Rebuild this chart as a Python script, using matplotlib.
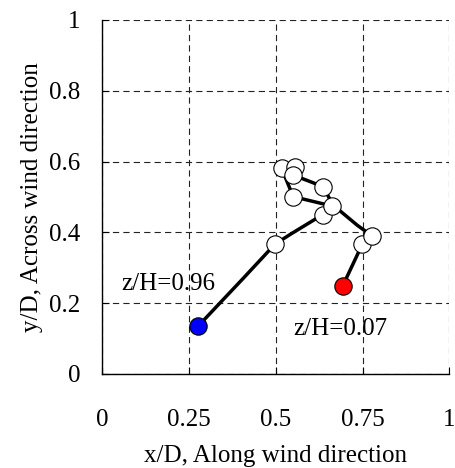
import matplotlib
matplotlib.use("Agg")
import matplotlib.pyplot as plt

plt.rcParams['font.family'] = ['Liberation Serif', 'DejaVu Serif']
plt.rcParams['lines.scale_dashes'] = False

# trajectory of the centre, from z/H=0.96 (top) down to z/H=0.07 (bottom)
path_x = [0.277, 0.406, 0.498, 0.546, 0.635, 0.660, 0.550, 0.517, 0.555,
          0.550, 0.637, 0.664, 0.735, 0.776, 0.749, 0.693]
path_y = [0.136, 0.270, 0.367, 0.397, 0.450, 0.475, 0.501, 0.581, 0.586,
          0.562, 0.529, 0.478, 0.420, 0.391, 0.366, 0.249]

# measured levels (open circles)
mark_x = [0.498, 0.635, 0.661, 0.550, 0.637, 0.517, 0.555, 0.550, 0.749, 0.776]
mark_y = [0.367, 0.450, 0.475, 0.501, 0.529, 0.581, 0.586, 0.562, 0.366, 0.391]

top_pt = (0.277, 0.136)      # z/H=0.96
bottom_pt = (0.693, 0.249)   # z/H=0.07

ticks_x = [0, 0.25, 0.5, 0.75, 1]
ticks_y = [0, 0.2, 0.4, 0.6, 0.8, 1]

fig = plt.figure(figsize=(4.56, 4.68), dpi=100)
ax = fig.add_axes([0.2243, 0.2009, 0.7610, 0.7564])

ax.plot(path_x, path_y, color='black', lw=2.5, zorder=3, solid_capstyle='round')
ax.plot(mark_x, mark_y, 'o', ms=12.5, mfc='white', mec='black', mew=0.8, zorder=4)
ax.plot(*top_pt, 'o', ms=12.5, mfc='#0000ff', mec='black', mew=0.8, zorder=5)
ax.plot(*bottom_pt, 'o', ms=12.5, mfc='#ff0000', mec='black', mew=0.8, zorder=5)

ax.text(0.056, 0.237, 'z/H=0.96', fontsize=18, va='baseline', ha='left')
ax.text(0.551, 0.110, 'z/H=0.07', fontsize=18, va='baseline', ha='left')

ax.set_xlim(0, 1)
ax.set_ylim(0, 1)
ax.set_xticks(ticks_x)
ax.set_xticklabels(['0', '0.25', '0.5', '0.75', '1'])
ax.set_yticks(ticks_y)
ax.set_yticklabels(['0', '0.2', '0.4', '0.6', '0.8', '1'])
ax.tick_params(axis='x', direction='in', length=5, width=0.8, pad=25, labelsize=18)
ax.tick_params(axis='y', direction='in', length=5, width=0.8, pad=16, labelsize=18)

ax.grid(True, color='#222222', lw=0.8, dashes=(4.5, 3))
ax.set_axisbelow(True)
for s in ['top', 'right']:
    ax.spines[s].set_visible(False)
for s in ['left', 'bottom']:
    ax.spines[s].set_linewidth(1.0)
# grid lines at 1 form the top and right frame
ax.set_xlabel('x/D, Along wind direction', fontsize=18, labelpad=10)
ax.set_ylabel('y/D, Across wind direction', fontsize=18, labelpad=4)

fig.savefig('out.png', dpi=100)
